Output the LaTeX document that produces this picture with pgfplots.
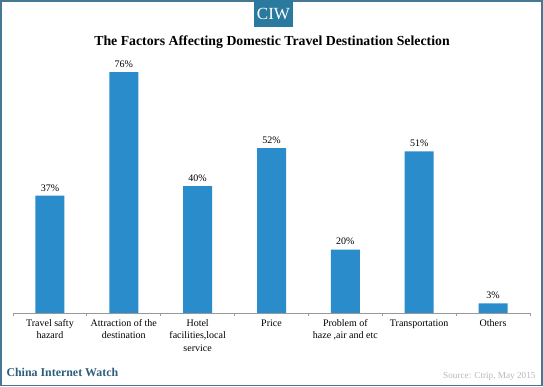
\documentclass[border=0pt]{standalone}
\usepackage{pgfplots}
\pgfplotsset{compat=1.18}
\usepackage{fontspec}
\setmainfont{Liberation Serif}
\definecolor{barblue}{RGB}{42,140,203}
\definecolor{ciwteal}{RGB}{42,122,160}
\definecolor{frame}{RGB}{70,120,150}
\definecolor{footer}{RGB}{45,95,125}
\begin{document}
\begin{tikzpicture}[x=1pt,y=1pt]
\useasboundingbox (0,0) rectangle (543,387);
\fill[white] (0,0) rectangle (543,387);
\draw[frame,line width=1.5pt] (1,1.5) rectangle (542,386);
\fill[ciwteal] (254,387) rectangle (293,360);
\node[white,font=\fontsize{17}{17}\selectfont] at (273.5,373) {CIW};
\node[font=\bfseries\fontsize{13.8}{15}\selectfont] at (272,345) {The Factors Affecting Domestic Travel Destination Selection};
\node[anchor=west,text=footer,font=\bfseries\fontsize{11.9}{13}\selectfont] at (3,15) {China Internet Watch};
\node[anchor=east,text=black!28,font=\fontsize{9.2}{10}\selectfont] at (539,11) {Source: Ctrip, May 2015};
\begin{axis}[
  at={(13pt,74pt)}, anchor=south west,
  scale only axis, width=517pt, height=253.6pt,
  xmin=-0.5, xmax=6.5, ymin=0, ymax=80,
  axis y line=none, axis x line*=bottom,
  x axis line style={-, draw=black!40, line width=0.8pt},
  xtick={0,...,6},
  xticklabels={{Travel safty\\hazard}, {Attraction of the\\destination}, {Hotel\\facilities,local\\service}, {Price}, {Problem of\\haze ,air and etc}, {Transportation}, {Others}},
  major tick length=0pt,
  xticklabel style={align=center, font=\fontsize{10}{12.3}\selectfont, yshift=-3pt, anchor=north},
  extra x ticks={-0.5,0.5,1.5,2.5,3.5,4.5,5.5,6.5},
  extra x tick labels={},
  extra x tick style={major tick length=3pt, tick align=outside, tick style={black!40, line width=0.8pt}},
  /pgf/number format/assume math mode=true,
  nodes near coords={\pgfmathprintnumber{\pgfplotspointmeta}\%},
  every node near coord/.append style={font=\fontsize{10}{11}\selectfont, black, yshift=1pt},
  clip=false,
]
\addplot[ybar, bar width=29pt, fill=barblue, draw=none] coordinates {
(0,37) (1,76) (2,40) (3,52) (4,20) (5,51) (6,3)
};
\end{axis}
\end{tikzpicture}
\end{document}
